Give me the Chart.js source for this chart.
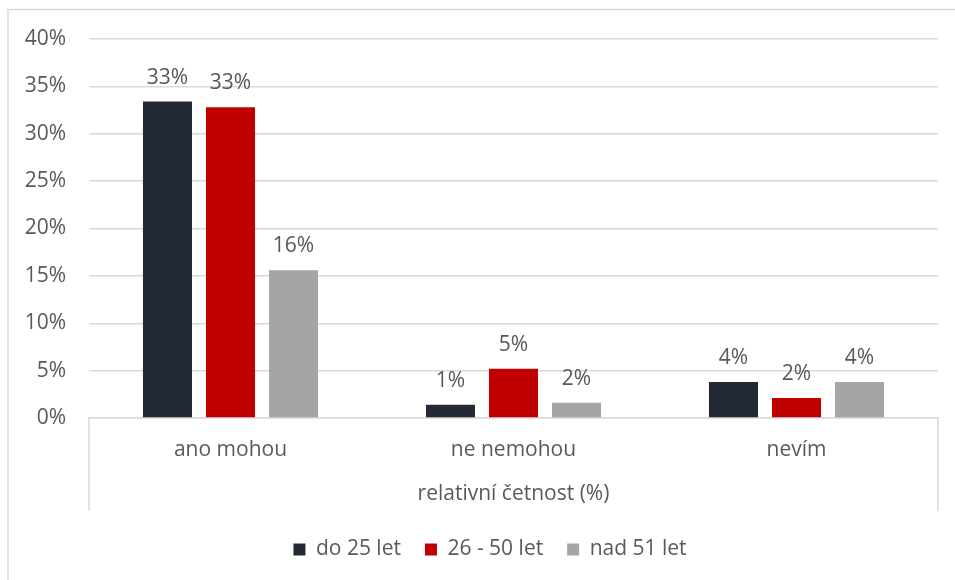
<!DOCTYPE html>
<html>
<head>
<meta charset="utf-8">
<script src="https://cdn.jsdelivr.net/npm/chart.js@4"></script>
<style>
  html, body { margin: 0; padding: 0; background: #ffffff; }
  #wrap { width: 955px; height: 580px; position: relative; }
</style>
</head>
<body>
<div id="wrap"><canvas id="c" width="955" height="580"></canvas></div>
<script>
const categories = ['ano mohou', 'ne nemohou', 'nevím'];
const seriesNames = ['do 25 let', '26 - 50 let', 'nad 51 let'];
const do25 = [33.4, 1.4, 3.8];
const od26do50 = [32.8, 5.2, 2.1];
const nad51 = [15.6, 1.6, 3.8];
const yTicks = [0, 5, 10, 15, 20, 25, 30, 35, 40];
const axisGroupLabel = 'relativní četnost (%)';

const colors = ['#242a35', '#c00000', '#a5a5a5'];
const textColor = '#595959';
const gridColor = '#d9d9d9';
const fontFamily = '"Open Sans", "Noto Sans", sans-serif';

const frame = {
  id: 'frame',
  afterLayout(chart) {
    if (chart.legend) {
      chart.legend.left += 21;
      chart.legend.right += 21;
      chart.legend.top += 4;
      chart.legend.bottom += 4;
    }
  },
  beforeDraw(chart) {
    const ctx = chart.ctx;
    ctx.save();
    ctx.strokeStyle = gridColor;
    ctx.lineWidth = 1.5;
    ctx.beginPath();
    ctx.moveTo(8, 590);
    ctx.lineTo(8, 9.5);
    ctx.lineTo(960, 9.5);
    ctx.stroke();
    ctx.restore();
  },
  afterDraw(chart) {
    const ctx = chart.ctx;
    const x = chart.scales.x;
    ctx.save();
    ctx.strokeStyle = gridColor;
    ctx.lineWidth = 1.5;
    ctx.beginPath();
    ctx.moveTo(x.left, x.top);
    ctx.lineTo(x.left, x.bottom);
    ctx.moveTo(x.right, x.top);
    ctx.lineTo(x.right, x.bottom);
    ctx.stroke();
    ctx.restore();
  }
};

const valueLabels = {
  id: 'valueLabels',
  afterDatasetsDraw(chart) {
    const ctx = chart.ctx;
    ctx.save();
    ctx.fillStyle = textColor;
    ctx.font = '21px ' + fontFamily;
    ctx.textAlign = 'center';
    ctx.textBaseline = 'middle';
    chart.data.datasets.forEach((ds, i) => {
      chart.getDatasetMeta(i).data.forEach((bar, j) => {
        ctx.fillText(Math.round(ds.data[j]) + '%', bar.x, bar.y - 24);
      });
    });
    ctx.restore();
  }
};

new Chart(document.getElementById('c'), {
  type: 'bar',
  data: {
    labels: categories,
    datasets: [
      { label: seriesNames[0], data: do25, backgroundColor: colors[0] },
      { label: seriesNames[1], data: od26do50, backgroundColor: colors[1] },
      { label: seriesNames[2], data: nad51, backgroundColor: colors[2] }
    ]
  },
  options: {
    responsive: false,
    animation: false,
    devicePixelRatio: 1,
    categoryPercentage: 0.668,
    barPercentage: 0.778,
    layout: { padding: { left: 0, right: 17, top: 39, bottom: 14 } },
    font: { family: fontFamily, size: 21 },
    plugins: {
      tooltip: { enabled: false },
      legend: {
        position: 'bottom',
        labels: {
          color: textColor,
          font: { family: fontFamily, size: 21 },
          boxWidth: 12,
          boxHeight: 12,
          padding: 24
        }
      }
    },
    scales: {
      x: {
        grid: { display: false, drawTicks: false },
        border: { display: true, color: gridColor, width: 1.5 },
        ticks: { color: textColor, font: { family: fontFamily, size: 21 }, padding: 19 },
        title: {
          display: true,
          text: axisGroupLabel,
          color: textColor,
          font: { family: fontFamily, size: 21 },
          padding: { top: 0, bottom: 4 }
        },
        afterFit(scale) { scale.height = 93; }
      },
      y: {
        min: 0,
        max: 40,
        afterBuildTicks(scale) { scale.ticks = yTicks.map(v => ({ value: v })); },
        grid: { color: gridColor, lineWidth: 1.5, drawTicks: false },
        border: { display: false },
        ticks: {
          color: textColor,
          font: { family: fontFamily, size: 21 },
          padding: 23,
          callback: v => v + '%'
        },
        afterFit(scale) { scale.width = 89; }
      }
    }
  },
  plugins: [frame, valueLabels]
});
</script>
</body>
</html>
